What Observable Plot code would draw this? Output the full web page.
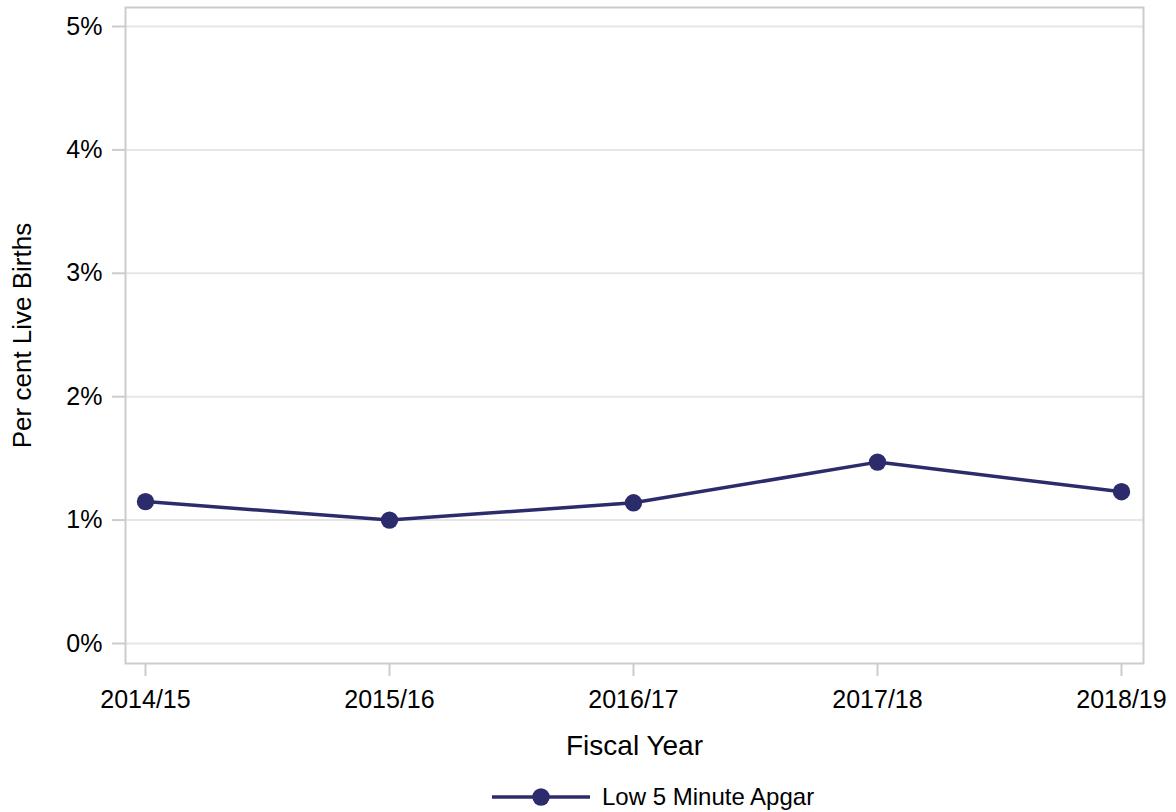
<!DOCTYPE html>
<html>
<head>
<meta charset="utf-8">
<script src="https://cdn.jsdelivr.net/npm/d3@7"></script>
<script src="https://cdn.jsdelivr.net/npm/@observablehq/plot@0.6"></script>
<style>
  html, body { margin: 0; padding: 0; background: #fff; }
  body { width: 1176px; height: 812px; overflow: hidden; font-family: "Liberation Sans", Arial, sans-serif; }
  #legend { height: 37px; display: flex; align-items: center; padding-left: 492px; padding-top: 6px; box-sizing: border-box; }
  #legend span { font-size: 24px; color: #000; margin-left: 12px; }
</style>
</head>
<body>
<div id="chart"></div>
<div id="legend"></div>
<script>
const years = ["2014/15", "2015/16", "2016/17", "2017/18", "2018/19"];
const lowApgar = [1.15, 1.00, 1.14, 1.47, 1.23];
const yTicks = [0, 1, 2, 3, 4, 5];
const seriesName = "Low 5 Minute Apgar";
const lineColor = "#2c2b6b";

const data = years.map((y, i) => ({year: y, value: lowApgar[i]}));

const chart = Plot.plot({
  width: 1176,
  height: 775,
  marginLeft: 125,
  marginRight: 33,
  marginTop: 7,
  marginBottom: 112,
  insetLeft: 19,
  insetRight: 21,
  insetTop: 19,
  insetBottom: 20,
  style: {fontFamily: "'Liberation Sans', Arial, sans-serif", background: "#fff", color: "#000"},
  x: {type: "point", domain: years, padding: 0, label: null},
  y: {domain: [0, 5], ticks: yTicks, label: null},
  marks: [
    Plot.gridY(yTicks, {stroke: "#e6e6e6", strokeWidth: 2, strokeOpacity: 1}),
    Plot.frame({stroke: "#cccccc", strokeWidth: 2}),
    Plot.axisY(yTicks, {tickSize: 13, text: null, stroke: "#cccccc", strokeWidth: 2, strokeOpacity: 1}),
    Plot.axisY(yTicks, {tickSize: 0, tickPadding: 23, fontSize: 25, fill: "#000", tickFormat: d => d + "%", label: null}),
    Plot.axisX({tickSize: 13, text: null, stroke: "#cccccc", strokeWidth: 2, strokeOpacity: 1}),
    Plot.axisX({tickSize: 0, tickPadding: 27, fontSize: 25, fill: "#000", label: null}),
    Plot.text(["Fiscal Year"], {frameAnchor: "bottom", dy: 91, fontSize: 28, fill: "#000", textAnchor: "middle"}),
    Plot.text(["Per cent Live Births"], {frameAnchor: "left", dx: -103, rotate: -90, fontSize: 26, fill: "#000", textAnchor: "middle"}),
    Plot.line(data, {x: "year", y: "value", stroke: lineColor, strokeWidth: 3.5}),
    Plot.dot(data, {x: "year", y: "value", r: 8.7, fill: lineColor, stroke: "none"})
  ]
});
document.getElementById("chart").appendChild(chart);

const legend = document.getElementById("legend");
legend.innerHTML = `<svg width="98" height="20" viewBox="0 0 98 20"><line x1="0" y1="10" x2="98" y2="10" stroke="${lineColor}" stroke-width="3.5"/><circle cx="49" cy="10" r="8.7" fill="${lineColor}"/></svg><span>${seriesName}</span>`;
</script>
</body>
</html>
